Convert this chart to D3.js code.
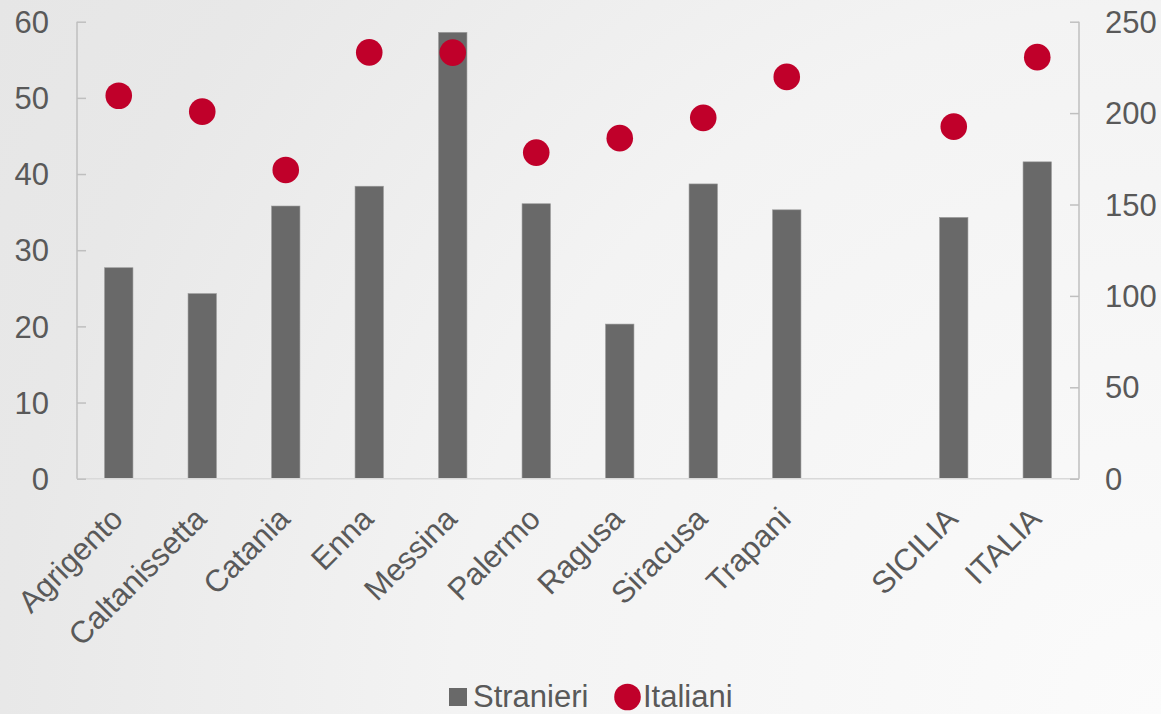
<!DOCTYPE html>
<html>
<head>
<meta charset="utf-8">
<script src="https://cdn.jsdelivr.net/npm/d3@7"></script>
<style>
  html, body { margin: 0; padding: 0; background: #f0f0f0; }
  svg { display: block; }
  text { font-family: "Liberation Sans", Arial, sans-serif; fill: #595959; }
</style>
</head>
<body>
<svg id="chart" width="1161" height="714"></svg>
<script>
const categories = ["Agrigento", "Caltanissetta", "Catania", "Enna", "Messina", "Palermo", "Ragusa", "Siracusa", "Trapani", "", "SICILIA", "ITALIA"];
const stranieri = [27.7, 24.3, 35.8, 38.4, 58.6, 36.1, 20.3, 38.7, 35.3, null, 34.3, 41.6];
const italiani = [209.5, 200.8, 168.9, 233.2, 233.1, 178.4, 186.3, 197.4, 219.8, null, 192.6, 230.6];
const leftTicks = [0, 10, 20, 30, 40, 50, 60];
const rightTicks = [0, 50, 100, 150, 200, 250];
const seriesNames = ["Stranieri", "Italiani"];

const W = 1161, H = 714;
const svg = d3.select("#chart");
const margin = { left: 77, right: 82, top: 21.7, bottom: 235.3 };
const plotL = margin.left, plotR = W - margin.right, plotT = margin.top, plotB = H - margin.bottom;
const FS = 31;

// background gradient
const defs = svg.append("defs");
const grad = defs.append("radialGradient").attr("id", "bg")
  .attr("gradientUnits", "userSpaceOnUse")
  .attr("cx", W).attr("cy", H).attr("r", 1362);
[[0, "#fbfbfb"], [0.52, "#f3f3f3"], [0.85, "#e8e8e8"], [1, "#e6e6e6"]].forEach(([o, c]) =>
  grad.append("stop").attr("offset", o).attr("stop-color", c));
svg.append("rect").attr("width", W).attr("height", H).attr("fill", "url(#bg)");

const keys = categories.map((c, i) => i);
const x = d3.scaleBand().domain(keys).range([plotL, plotR]).padding(0);
const yL = d3.scaleLinear().domain([0, 60]).range([plotB, plotT]);
const yR = d3.scaleLinear().domain([0, 250]).range([plotB, plotT]);
const barW = x.bandwidth() * 0.34;

// bars
svg.append("g").selectAll("rect")
  .data(keys.filter(i => stranieri[i] != null))
  .join("rect")
  .attr("x", i => x(i) + x.bandwidth() / 2 - barW / 2)
  .attr("width", barW)
  .attr("y", i => yL(stranieri[i]))
  .attr("height", i => yL(0) - yL(stranieri[i]))
  .attr("fill", "#696969")
  .attr("stroke", "#9a9a9a")
  .attr("stroke-width", 0.6);

// bottom axis line
svg.append("line")
  .attr("x1", plotL).attr("x2", plotR)
  .attr("y1", plotB).attr("y2", plotB)
  .attr("stroke", "#d9d9d9").attr("stroke-width", 1.5);

// left axis
const gL = svg.append("g").attr("transform", `translate(${plotL},0)`)
  .call(d3.axisRight(yL).tickValues(leftTicks).tickSize(9).tickFormat(""));
gL.select(".domain").attr("stroke", "#bfbfbf").attr("stroke-width", 1.5).attr("d", `M0,${plotT}V${plotB}`);
gL.selectAll(".tick line").attr("stroke", "#bfbfbf").attr("stroke-width", 1.5);
svg.append("g").selectAll("text").data(leftTicks).join("text")
  .attr("x", 49).attr("y", d => yL(d))
  .attr("dy", "0.36em")
  .attr("text-anchor", "end")
  .attr("font-size", FS)
  .text(d => d);

// right axis
const gR = svg.append("g").attr("transform", `translate(${plotR},0)`)
  .call(d3.axisLeft(yR).tickValues(rightTicks).tickSize(9).tickFormat(""));
gR.select(".domain").attr("stroke", "#bfbfbf").attr("stroke-width", 1.5).attr("d", `M0,${plotT}V${plotB}`);
gR.selectAll(".tick line").attr("stroke", "#bfbfbf").attr("stroke-width", 1.5);
svg.append("g").selectAll("text").data(rightTicks).join("text")
  .attr("x", plotR + 26).attr("y", d => yR(d))
  .attr("dy", "0.36em")
  .attr("text-anchor", "start")
  .attr("font-size", FS)
  .text(d => d);

// dots
svg.append("g").selectAll("circle")
  .data(keys.filter(i => italiani[i] != null))
  .join("circle")
  .attr("cx", i => x(i) + x.bandwidth() / 2)
  .attr("cy", i => yR(italiani[i]))
  .attr("r", 13.3)
  .attr("fill", "#c0002a");

// x labels
svg.append("g").selectAll("text")
  .data(keys.filter(i => categories[i] !== ""))
  .join("text")
  .attr("transform", i => `translate(${x(i) + x.bandwidth() / 2 + 6},${plotB + 42}) rotate(-45)`)
  .attr("text-anchor", "end")
  .attr("font-size", FS)
  .text(i => categories[i]);

// legend
const lg = svg.append("g");
lg.append("rect").attr("x", 449).attr("y", 688).attr("width", 18).attr("height", 18).attr("fill", "#696969");
lg.append("text").attr("x", 473).attr("y", 707).attr("font-size", FS).text(seriesNames[0]);
lg.append("circle").attr("cx", 627.5).attr("cy", 697).attr("r", 13.3).attr("fill", "#c0002a");
lg.append("text").attr("x", 643).attr("y", 707).attr("font-size", FS).text(seriesNames[1]);
</script>
</body>
</html>
